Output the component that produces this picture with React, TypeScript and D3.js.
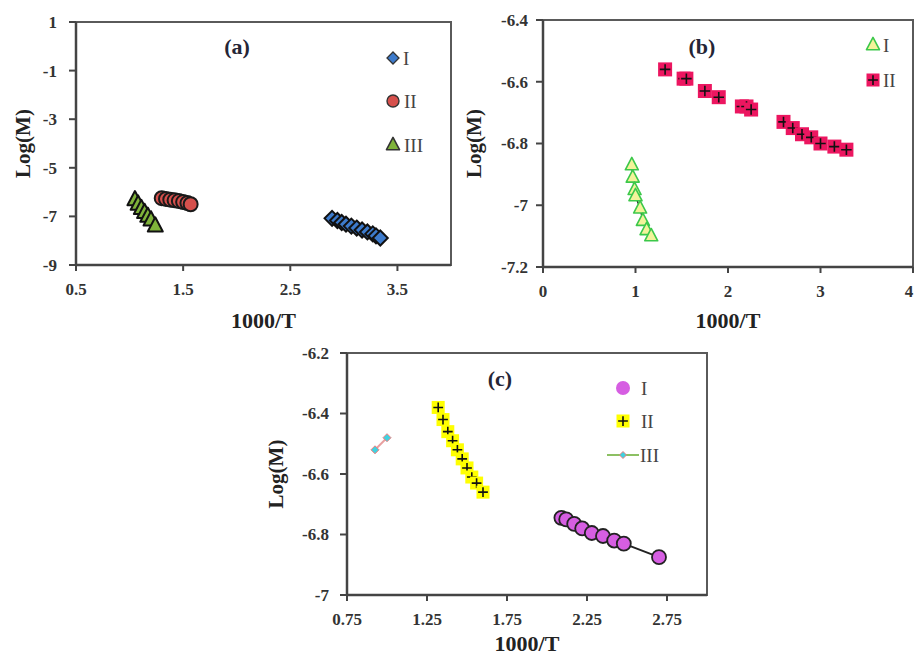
import React from "react";
import * as d3 from "d3";

// ---------- Data ----------
// Panel (a)
const aI_x = [2.89, 2.94, 2.98, 3.02, 3.07, 3.12, 3.17, 3.22, 3.27, 3.30, 3.34];
const aI_y = [-7.08, -7.17, -7.25, -7.32, -7.40, -7.48, -7.56, -7.64, -7.72, -7.80, -7.89];
const aII_x = [1.30, 1.34, 1.38, 1.42, 1.46, 1.50, 1.54, 1.57];
const aII_y = [-6.25, -6.28, -6.31, -6.34, -6.37, -6.41, -6.45, -6.50];
const aIII_x = [1.05, 1.08, 1.11, 1.14, 1.17, 1.20, 1.24];
const aIII_y = [-6.32, -6.50, -6.68, -6.84, -7.00, -7.15, -7.40];

// Panel (b)
const bI_x = [0.96, 0.97, 0.99, 1.0, 1.05, 1.08, 1.12, 1.17];
const bI_y = [-6.87, -6.91, -6.95, -6.97, -7.01, -7.05, -7.08, -7.10];
const bII_x = [1.32, 1.52, 1.55, 1.75, 1.90, 2.15, 2.20, 2.25, 2.60, 2.70, 2.80, 2.90, 3.00, 3.15, 3.28];
const bII_y = [-6.56, -6.59, -6.59, -6.63, -6.65, -6.68, -6.68, -6.69, -6.73, -6.75, -6.77, -6.78, -6.80, -6.81, -6.82];

// Panel (c)
const cI_x = [2.09, 2.12, 2.17, 2.22, 2.28, 2.35, 2.42, 2.48, 2.70];
const cI_y = [-6.745, -6.75, -6.765, -6.78, -6.795, -6.805, -6.82, -6.83, -6.875];
const cII_x = [1.32, 1.35, 1.38, 1.41, 1.44, 1.47, 1.50, 1.53, 1.56, 1.60];
const cII_y = [-6.38, -6.42, -6.46, -6.49, -6.52, -6.55, -6.58, -6.61, -6.63, -6.66];
const cIII_x = [0.925, 1.0];
const cIII_y = [-6.52, -6.48];

// Ticks
const aXTicks = [0.5, 1.5, 2.5, 3.5];
const aYTicks = [1, -1, -3, -5, -7, -9];
const bXTicks = [0, 1, 2, 3, 4];
const bYTicks = [-6.4, -6.6, -6.8, -7, -7.2];
const cXTicks = [0.75, 1.25, 1.75, 2.25, 2.75];
const cYTicks = [-6.2, -6.4, -6.6, -6.8, -7];

const seriesNames = ["I", "II", "III"];

const FONT = "'Liberation Serif', 'Times New Roman', serif";
const W = 915;
const H = 657;

function Marker({ kind, x, y, fill, stroke, size, sw }: any) {
  const r = size;
  if (kind === "diamond") {
    return <path d={`M${x},${y - r}L${x + r},${y}L${x},${y + r}L${x - r},${y}Z`} fill={fill} stroke={stroke} strokeWidth={sw ?? 1.3} />;
  }
  if (kind === "circle") {
    return <circle cx={x} cy={y} r={r} fill={fill} stroke={stroke} strokeWidth={sw ?? 1.4} />;
  }
  if (kind === "triangle") {
    const h = r * 1.9;
    return <path d={`M${x},${y - h * 0.62}L${x + r},${y + h * 0.38}L${x - r},${y + h * 0.38}Z`} fill={fill} stroke={stroke} strokeWidth={sw ?? 1.6} strokeLinejoin="round" />;
  }
  if (kind === "squarePlus") {
    return (
      <g>
        <rect x={x - r} y={y - r} width={2 * r} height={2 * r} fill={fill} />
        <path d={`M${x - r * 0.75},${y}H${x + r * 0.75}M${x},${y - r * 0.75}V${y + r * 0.75}`} stroke="#111" strokeWidth={1.6} />
      </g>
    );
  }
  return <path d={`M${x},${y - r}L${x + r},${y}L${x},${y + r}L${x - r},${y}Z`} fill={fill} stroke={stroke} strokeWidth={1} />;
}

function Panel({ xs, ys, xTicks, yTicks, fmtX, fmtY, title, titlePos, yLabelX, yGap, xLabelDy, series, legend }: any) {
  const [x0, x1] = xs.range();
  const [y0, y1] = ys.range();
  const line = d3.line<[number, number]>().x((d) => xs(d[0])).y((d) => ys(d[1]));
  return (
    <g>
      <rect x={x0} y={y1} width={x1 - x0} height={y0 - y1} fill="white" stroke="#5a5a5a" strokeWidth={2} />
      {yTicks.map((t: number) => (
        <g key={"y" + t}>
          <line x1={x0 - 7} x2={x0} y1={ys(t)} y2={ys(t)} stroke="#444" strokeWidth={2} />
          <text x={x0 - yGap} y={ys(t)} dy="0.35em" textAnchor="end" fontFamily={FONT} fontWeight="bold" fontSize={17} fill="#333">
            {fmtY(t)}
          </text>
        </g>
      ))}
      {xTicks.map((t: number) => (
        <g key={"x" + t}>
          <line x1={xs(t)} x2={xs(t)} y1={y0} y2={y0 + 6} stroke="#444" strokeWidth={2} />
          <text x={Math.min(xs(t), W - 6)} y={y0 + 30} textAnchor="middle" fontFamily={FONT} fontWeight="bold" fontSize={17} fill="#333">
            {fmtX(t)}
          </text>
        </g>
      ))}
      <line x1={x0} x2={x0} y1={y1} y2={y0} stroke="#444" strokeWidth={2.5} />
      <line x1={x0} x2={x1} y1={y0} y2={y0} stroke="#444" strokeWidth={2.5} />
      <text x={(x0 + x1) / 2} y={Math.min(y0 + xLabelDy, H - 6)} textAnchor="middle" fontFamily={FONT} fontWeight="bold" fontSize={22} fill="#222">
        1000/T
      </text>
      <text transform={`translate(${yLabelX},${(y0 + y1) / 2}) rotate(-90)`} textAnchor="middle" dy="0.35em" fontFamily={FONT} fontWeight="bold" fontSize={21} fill="#222">
        Log(M)
      </text>
      <text x={titlePos[0]} y={titlePos[1]} textAnchor="middle" dy="0.35em" fontFamily={FONT} fontWeight="bold" fontSize={22} fill="#252535">
        {title}
      </text>
      {series.map((s: any, i: number) => {
        const pts: [number, number][] = s.x.map((v: number, k: number) => [v, s.y[k]]);
        return (
          <g key={"s" + i}>
            {s.lineColor && <path d={line(pts) || ""} fill="none" stroke={s.lineColor} strokeWidth={s.lineWidth || 2} />}
            {pts.map((p, k) => (
              <Marker key={k} kind={s.kind} x={xs(p[0])} y={ys(p[1])} fill={s.fill} stroke={s.stroke} size={s.size} sw={s.sw} />
            ))}
          </g>
        );
      })}
      {legend.map((l: any, i: number) => (
        <g key={"l" + i}>
          {l.lineColor && <line x1={l.x - 16} x2={l.x + 16} y1={l.y} y2={l.y} stroke={l.lineColor} strokeWidth={2} />}
          <Marker kind={l.kind} x={l.x} y={l.y} fill={l.fill} stroke={l.stroke} size={l.size} />
          <text x={l.tx} y={l.y} dy="0.35em" fontFamily={FONT} fontSize={19} fill="#444">
            {l.label}
          </text>
        </g>
      ))}
    </g>
  );
}

export default function App() {
  const xa = d3.scaleLinear().domain([0.5, 4]).range([76, 451]);
  const ya = d3.scaleLinear().domain([-9, 1]).range([265, 22]);
  const xb = d3.scaleLinear().domain([0, 4]).range([543, 913]);
  const yb = d3.scaleLinear().domain([-7.2, -6.4]).range([267, 20]);
  const xc = d3.scaleLinear().domain([0.75, 3.0]).range([347, 707]);
  const yc = d3.scaleLinear().domain([-7, -6.2]).range([595, 353]);
  const fmtPlain = (t: number) => String(t);

  const aColors = { I: "#3d7bcc", II: "#d6504c", III: "#7fb33a" };

  return (
    <svg width={W} height={H} style={{ position: "absolute", left: 0, top: 0, background: "white" }}>
      <Panel
        xs={xa}
        ys={ya}
        xTicks={aXTicks}
        yTicks={aYTicks}
        fmtX={(t: number) => t.toFixed(1)}
        fmtY={fmtPlain}
        title="(a)"
        titlePos={[237, 46]}
        yLabelX={23}
        yGap={19}
        xLabelDy={63}
        series={[
          { x: aIII_x, y: aIII_y, kind: "triangle", fill: aColors.III, stroke: "#111", size: 7.5, sw: 2, lineColor: "#111", lineWidth: 4 },
          { x: aII_x, y: aII_y, kind: "circle", fill: aColors.II, stroke: "#1a1a1a", size: 7, sw: 2, lineColor: "#111", lineWidth: 4 },
          { x: aI_x, y: aI_y, kind: "diamond", fill: aColors.I, stroke: "#111", size: 7.5, sw: 2, lineColor: "#111", lineWidth: 4 },
        ]}
        legend={[
          { x: 393, y: 58, kind: "diamond", fill: aColors.I, stroke: "#333", size: 6, label: seriesNames[0], tx: 403 },
          { x: 393, y: 101, kind: "circle", fill: aColors.II, stroke: "#333", size: 6, label: seriesNames[1], tx: 404 },
          { x: 393, y: 145, kind: "triangle", fill: aColors.III, stroke: "#333", size: 6.5, label: seriesNames[2], tx: 404 },
        ]}
      />
      <Panel
        xs={xb}
        ys={yb}
        xTicks={bXTicks}
        yTicks={bYTicks}
        fmtX={fmtPlain}
        fmtY={fmtPlain}
        title="(b)"
        titlePos={[702, 46]}
        yLabelX={474}
        yGap={15}
        xLabelDy={61}
        series={[
          { x: bI_x, y: bI_y, kind: "triangle", fill: "#f3f39a", stroke: "#3cc84a", size: 6.5, lineColor: "#222", lineWidth: 1.5 },
          { x: bII_x, y: bII_y, kind: "squarePlus", fill: "#ec1660", stroke: "none", size: 7 },
        ]}
        legend={[
          { x: 873, y: 45, kind: "triangle", fill: "#f3f39a", stroke: "#3cc84a", size: 6.5, label: seriesNames[0], tx: 883 },
          { x: 873, y: 80, kind: "squarePlus", fill: "#ec1660", stroke: "none", size: 6.5, label: seriesNames[1], tx: 883 },
        ]}
      />
      <Panel
        xs={xc}
        ys={yc}
        xTicks={cXTicks}
        yTicks={cYTicks}
        fmtX={(t: number) => t.toFixed(2)}
        fmtY={fmtPlain}
        title="(c)"
        titlePos={[500, 378]}
        yLabelX={276}
        yGap={18}
        xLabelDy={56}
        series={[
          { x: cIII_x, y: cIII_y, kind: "small", fill: "#3fd2e0", stroke: "#f07c7c", size: 4, lineColor: "#e8a0a0", lineWidth: 2 },
          { x: cII_x, y: cII_y, kind: "squarePlus", fill: "#ffff00", stroke: "none", size: 6.5, lineColor: "#111", lineWidth: 1.5 },
          { x: cI_x, y: cI_y, kind: "circle", fill: "#d65ee2", stroke: "#222", size: 7, sw: 1.8, lineColor: "#222", lineWidth: 2 },
        ]}
        legend={[
          { x: 623, y: 388, kind: "circle", fill: "#d65ee2", stroke: "none", size: 7, label: seriesNames[0], tx: 641 },
          { x: 623, y: 421, kind: "squarePlus", fill: "#ffff00", stroke: "none", size: 6.5, label: seriesNames[1], tx: 641 },
          { x: 623, y: 455, kind: "small", fill: "#3fd2e0", stroke: "#f07c7c", size: 3.5, label: seriesNames[2], tx: 640, lineColor: "#8cc063" },
        ]}
      />
    </svg>
  );
}
